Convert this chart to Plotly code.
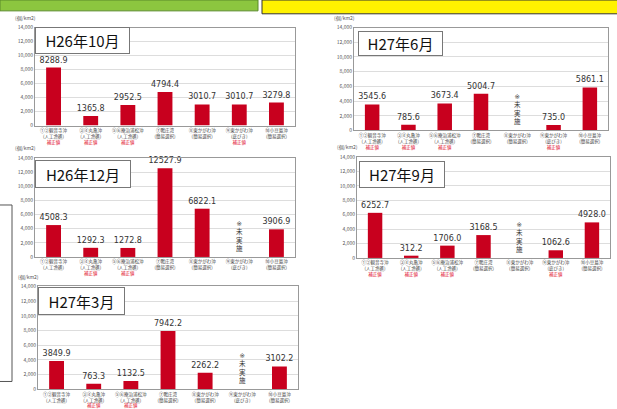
import plotly.graph_objects as go

W, H = 617, 409

sites = ["①②観音寺沖<br>(人工漁礁)", "③④丸亀沖<br>(人工漁礁)", "⑤⑥庵治浦松沖<br>(人工漁礁)",
         "⑦鴨庄湾<br>(簡易選択)", "⑧東かがわ沖<br>(簡易選択)", "⑨東かがわ沖<br>(底びき)",
         "⑩小豆島沖<br>(簡易選択)"]

titles = ["H26年10月", "H27年6月", "H26年12月", "H27年9月", "H27年3月"]
v_h26_10 = [8288.9, 1365.8, 2952.5, 4794.4, 3010.7, 3010.7, 3279.8]
v_h27_06 = [3545.6, 785.6, 3673.4, 5004.7, None, 735.0, 5861.1]
v_h26_12 = [4508.3, 1292.3, 1272.8, 12527.9, 6822.1, None, 3906.9]
v_h27_09 = [6252.7, 312.2, 1706.0, 3168.5, None, 1062.6, 4928.0]
v_h27_03 = [3849.9, 763.3, 1132.5, 7942.2, 2262.2, None, 3102.2]
values = [v_h26_10, v_h27_06, v_h26_12, v_h27_09, v_h27_03]
corrected = [[0, 1, 2, 5], [0, 1, 2, 5], [1, 2], [0, 1, 2, 5], [1, 2]]
y_ticks = [0, 2000, 4000, 6000, 8000, 10000, 12000, 14000]

# panel frames in pixels: (left, right, top, bottom)
frames = [(35, 295, 24, 124), (354, 608, 24, 129), (35, 295, 157, 258),
          (357, 610, 156, 259), (38, 298, 288, 393)]
# title boxes in pixels: (left, top, width, height)
boxes = [(35, 23, 95, 27), (358, 28, 85, 25), (35, 159, 96, 28),
         (359, 160, 86, 27), (38, 289, 87, 28)]

BAR = "#C8001E"
fig = go.Figure()
layout = dict(width=W, height=H, margin=dict(l=0, r=0, t=0, b=0),
              paper_bgcolor="white", plot_bgcolor="white", showlegend=False,
              bargap=0.6, font=dict(family="Noto Sans CJK JP", color="#333"))
annotations = []
shapes = []

for i, (vals, title, corr, fr, bx) in enumerate(zip(values, titles, corrected, frames, boxes)):
    n = "" if i == 0 else str(i + 1)
    xa, ya = "x" + n, "y" + n
    l, r, t, b = fr
    ticktext = [s + ("<br><span style='color:#E0001A'>補正値</span>" if k in corr else "")
                for k, s in enumerate(sites)]
    texts = ["" if v is None else f"{v:.1f}" for v in vals]
    fig.add_trace(go.Bar(x=list(range(len(sites))), y=[0 if v is None else v for v in vals],
                         marker_color=BAR, marker_line_width=0,
                         text=texts, textposition="outside", cliponaxis=False,
                         constraintext="none",
                         textfont=dict(size=8, color="#333", family="DejaVu Sans"),
                         xaxis=xa, yaxis=ya, hoverinfo="skip"))
    layout["xaxis" + n] = dict(domain=[l / W, r / W], anchor=ya, range=[-0.5, 6.5],
                               tickmode="array", tickvals=list(range(len(sites))),
                               ticktext=ticktext, tickfont=dict(size=4.5, color="#444"),
                               showline=True, linecolor="#999", linewidth=1, mirror=True,
                               ticks="", showgrid=False, tickangle=0, fixedrange=True)
    layout["yaxis" + n] = dict(domain=[1 - b / H, 1 - t / H], anchor=xa, range=[0, 14000],
                               tickmode="array", tickvals=y_ticks, tickformat=",",
                               tickfont=dict(size=5, color="#555"),
                               showline=True, linecolor="#999", linewidth=1, mirror=True,
                               gridcolor="#DDDDDD", gridwidth=1, zeroline=False, ticks="",
                               fixedrange=True)
    # title box
    bl, bt, bw, bh = bx
    annotations.append(dict(text=title, xref="paper", yref="paper",
                            x=bl / W, y=1 - bt / H, xanchor="left", yanchor="top", showarrow=False,
                            width=bw - 6, height=bh - 6, align="center", valign="middle",
                            font=dict(size=15, color="#111"), bgcolor="white",
                            bordercolor="#777", borderwidth=1, borderpad=2))
    # unit label
    annotations.append(dict(text="(個/km2)", xref="paper", yref="paper",
                            x=(l - 22) / W, y=1 - (t - 10) / H, xanchor="left", yanchor="middle",
                            showarrow=False, font=dict(size=5, color="#555")))
    # not conducted marks
    for k, v in enumerate(vals):
        if v is None:
            annotations.append(dict(text="<span style='font-family:DejaVu Sans'>※</span><br>未<br>実<br>施",
                                    x=k, y=300, xref=xa, yref=ya,
                                    xanchor="center", yanchor="bottom", showarrow=False,
                                    font=dict(size=6.5, color="#333", family="Noto Sans CJK JP")))

# header fragments and side bracket
shapes.append(dict(type="rect", xref="paper", yref="paper", x0=0, x1=258 / W,
                   y0=1 - 7 / H, y1=1.01, fillcolor="#8CC63F", line=dict(color="#5A8A2A", width=1)))
shapes.append(dict(type="rect", xref="paper", yref="paper", x0=262 / W, x1=1.01,
                   y0=1 - 10 / H, y1=1.01, fillcolor="#FFF200", line=dict(color="#333", width=1)))
shapes.append(dict(type="path", xref="paper", yref="paper",
                   path=f"M 0 {1 - 205 / H} L {12 / W} {1 - 205 / H} L {12 / W} {1 - 385 / H} L 0 {1 - 385 / H}",
                   line=dict(color="#555", width=1)))

layout["annotations"] = annotations
layout["shapes"] = shapes
fig.update_layout(**layout)
fig.write_html("out.html", config={"displayModeBar": False},
               post_script="document.body.style.margin='0';document.body.style.overflow='hidden';")
